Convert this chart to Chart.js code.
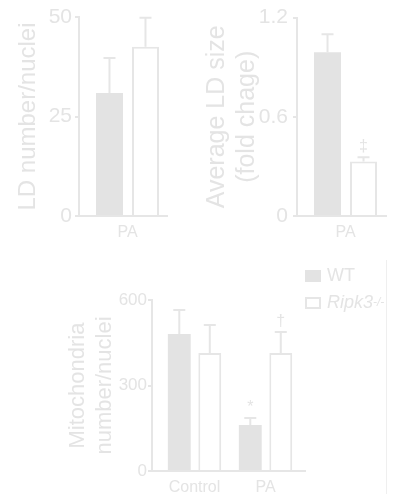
<!DOCTYPE html>
<html>
<head>
<meta charset="utf-8">
<script src="https://cdn.jsdelivr.net/npm/chart.js@4/dist/chart.umd.min.js"></script>
<style>
  html, body { margin: 0; padding: 0; background: #fff; }
  body { width: 398px; height: 498px; position: relative; overflow: hidden; font-family: "Liberation Sans", Arial, sans-serif; }
  canvas { position: absolute; }
  #c1 { left: 0; top: 0; }
  #c2 { left: 190px; top: 0; }
  #c3 { left: 40px; top: 255px; }
  .legend { position: absolute; left: 305px; top: 262px; color: #e4e4e4; font-size: 18px; line-height: 27px; }
  .legend .row { display: flex; align-items: center; height: 27px; }
  .legend .sw { width: 16px; height: 12px; margin-right: 6px; box-sizing: border-box; }
  .legend sup { font-size: 12px; font-style: italic; vertical-align: 8px; }
  .frame { position: absolute; left: 386px; top: 260px; width: 1px; height: 234px; background: #efefef; }
</style>
</head>
<body>
<canvas id="c1" width="180" height="245"></canvas>
<canvas id="c2" width="200" height="245"></canvas>
<canvas id="c3" width="280" height="243"></canvas>
<div class="legend">
  <div class="row"><span class="sw" style="background:#e3e3e3"></span>WT</div>
  <div class="row"><span class="sw" style="border:2px solid #e6e6e6"></span><i>Ripk3</i><sup>-/-</sup></div>
</div>
<div class="frame"></div>
<script>
  // values (mean, upper SEM)
  var ldLabels = ["PA"];
  var ldNumberWT = [30.9];
  var ldNumberWTErr = [8.8];
  var ldNumberKO = [42.5];
  var ldNumberKOErr = [7.3];

  var ldSizeWT = [0.99];
  var ldSizeWTErr = [0.11];
  var ldSizeKO = [0.33];
  var ldSizeKOErr = [0.025];
  var ldSizeKOMarks = ["‡"];

  var mitoLabels = ["Control", "PA"];
  var mitoWT = [481, 161];
  var mitoWTErr = [84, 25];
  var mitoKO = [414, 414];
  var mitoKOErr = [98, 74];
  var mitoWTMarks = ["", "*"];
  var mitoKOMarks = ["", "†"];

  var FILL = "#e3e3e3";
  var LINE = "#e6e6e6";
  var TEXT = "#e4e4e4";
  var FONT = "'Liberation Sans', Arial, sans-serif";
  var NARROW = "'Liberation Sans Narrow', 'Arial Narrow', 'Liberation Sans', sans-serif";

  // upper error bars + significance marks, taken from dataset.err / dataset.marks
  var errorBars = {
    id: "errorBars",
    afterDatasetsDraw: function (chart) {
      var c = chart.ctx, y = chart.scales.y;
      chart.data.datasets.forEach(function (ds, di) {
        var meta = chart.getDatasetMeta(di);
        meta.data.forEach(function (bar, i) {
          var top = y.getPixelForValue(ds.data[i].y + ds.err[i]);
          var half = Math.min(6, bar.width / 2 - 2);
          c.save();
          c.strokeStyle = LINE;
          c.lineWidth = 2;
          c.beginPath();
          c.moveTo(bar.x, bar.y);
          c.lineTo(bar.x, top);
          c.moveTo(bar.x - half, top);
          c.lineTo(bar.x + half, top);
          c.stroke();
          var m = ds.marks ? ds.marks[i] : "";
          if (m) {
            c.fillStyle = TEXT;
            c.font = "16px " + FONT;
            c.textAlign = "center";
            c.textBaseline = "alphabetic";
            c.fillText(m, bar.x, top - 6);
          }
          c.restore();
        });
      });
    }
  };

  function pts(arr) { return arr.map(function (v, i) { return { x: i, y: v }; }); }

  // numeric x axis so the bar groups can sit off-centre on the baseline, as in the figure
  function makeChart(id, labels, wt, wtErr, ko, koErr, wtMarks, koMarks, o) {
    return new Chart(document.getElementById(id), {
      type: "bar",
      data: {
        datasets: [
          { label: "WT", data: pts(wt), err: wtErr, marks: wtMarks, backgroundColor: FILL, borderColor: FILL, borderWidth: 0,
            categoryPercentage: o.cat, barPercentage: 0.75 },
          { label: "Ripk3-/-", data: pts(ko), err: koErr, marks: koMarks, backgroundColor: "#ffffff", borderColor: LINE, borderWidth: 2,
            categoryPercentage: o.cat, barPercentage: 0.75 }
        ]
      },
      options: {
        responsive: false,
        animation: false,
        events: [],
        layout: { padding: o.pad },
        plugins: { legend: { display: false }, tooltip: { enabled: false } },
        scales: {
          x: {
            type: "linear", min: o.xmin, max: o.xmax, offset: false,
            afterBuildTicks: function (s) { s.ticks = labels.map(function (l, i) { return { value: i }; }); },
            grid: { display: false, drawTicks: false },
            border: { color: LINE, width: 2 },
            ticks: { color: TEXT, font: { family: FONT, size: 16 }, padding: 7, autoSkip: false, maxRotation: 0,
              callback: function (v) { return labels[v]; } },
            afterFit: function (s) { s.height = o.xh; }
          },
          y: {
            min: 0, max: o.max,
            grid: { drawOnChartArea: false, color: LINE, lineWidth: 2, tickLength: 4 },
            border: { color: LINE, width: 2 },
            ticks: {
              stepSize: o.step, color: TEXT, padding: o.tp,
              font: { family: NARROW, size: o.fs },
              callback: function (v) { return o.fmt ? o.fmt(v) : v; }
            },
            title: { display: true, text: o.title, color: TEXT, font: { family: FONT, size: o.tsize },
              padding: { top: o.tpad, bottom: 0 } },
            afterFit: function (s) { s.width = o.yw; }
          }
        }
      },
      plugins: [errorBars]
    });
  }

  makeChart("c1", ldLabels, ldNumberWT, ldNumberWTErr, ldNumberKO, ldNumberKOErr, null, null, {
    cat: 0.818, xmin: -0.551, xmax: 0.449, pad: { left: 0, right: 13, top: 17, bottom: 0 }, xh: 29, yw: 79,
    max: 50, step: 25, fs: 21, tp: 3, title: "LD number/nuclei", tsize: 24, tpad: 14
  });

  makeChart("c2", ldLabels, ldSizeWT, ldSizeWTErr, ldSizeKO, ldSizeKOErr, null, ldSizeKOMarks, {
    cat: 0.809, xmin: -0.545, xmax: 0.455, pad: { left: 0, right: 4, top: 16, bottom: 0 }, xh: 29, yw: 107,
    max: 1.2, step: 0.6, fs: 21, tp: 5, fmt: function (v) { return v === 0 ? "0" : v.toFixed(1); },
    title: ["Average LD size", "(fold chage)"], tsize: 25, tpad: 12
  });

  makeChart("c3", mitoLabels, mitoWT, mitoWTErr, mitoKO, mitoKOErr, mitoWTMarks, mitoKOMarks, {
    cat: 0.859, xmin: -0.599, xmax: 1.556, pad: { left: 0, right: 15, top: 45, bottom: 0 }, xh: 27, yw: 112,
    max: 600, step: 300, fs: 17, tp: 1, title: ["Mitochondria", "number/nuclei"], tsize: 22, tpad: 25
  });
</script>
</body>
</html>
